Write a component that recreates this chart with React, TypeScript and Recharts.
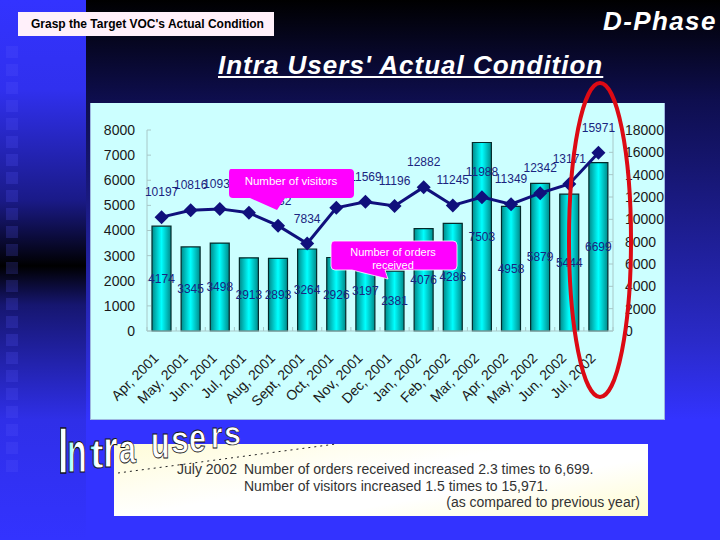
import React from "react";
import { ComposedChart, Bar, Line, XAxis, YAxis, LabelList } from "recharts";

const categories = ["Apr, 2001","May, 2001","Jun, 2001","Jul, 2001","Aug, 2001","Sept, 2001","Oct, 2001","Nov, 2001","Dec, 2001","Jan, 2002","Feb, 2002","Mar, 2002","Apr, 2002","May, 2002","Jun, 2002","Jul, 2002"];
const orders = [4174,3345,3498,2913,2893,3264,2926,3197,2381,4076,4286,7503,4958,5879,5444,6699];
const visitors = [10197,10816,10936,10583,9432,7834,11032,11569,11196,12882,11245,11988,11349,12342,13171,15971];
const leftTicks = [0,1000,2000,3000,4000,5000,6000,7000,8000];
const rightTicks = [0,2000,4000,6000,8000,10000,12000,14000,16000,18000];
const data = categories.map((name, i) => ({ name, orders: orders[i], visitors: visitors[i] }));

const FONT = "'Liberation Sans', Arial, sans-serif";
const NAVY = "#10107c";
const LABEL = "#1a2580";
const STEP = (613 - 147) / 16;

// WordArt letters: char, x, baseline, scaleX, scaleY
const wordArt: [string, number, number, number, number][] = [
  ["I", 58, 473, 1.1, 1.88],
  ["n", 67, 472, 0.95, 1.7],
  ["t", 90, 468, 1.2, 1.2],
  ["r", 103, 467, 1.1, 1.5],
  ["a", 119, 463, 0.9, 1.2],
  ["u", 151, 458, 0.9, 1.3],
  ["s", 171, 453, 0.95, 1.15],
  ["e", 189, 452, 0.9, 1.2],
  ["r", 211, 448, 0.85, 1.1],
  ["s", 224, 445, 0.9, 1.0],
];
const squares = Array.from({ length: 24 }, (_, i) => i);

function Diamond(props: any) {
  const { cx, cy, index } = props;
  const r = 7;
  return <polygon key={index} points={`${cx},${cy - r} ${cx + r},${cy} ${cx},${cy + r} ${cx - r},${cy}`} fill={NAVY} />;
}

function XTick(props: any) {
  const { x, y, payload, index } = props;
  const ax = x - 2;
  const ay = y + 20;
  return (
    <g>
      <line x1={x - STEP / 2} x2={x - STEP / 2} y1={331} y2={327} stroke="#a8c8c8" />
      {index === 15 && <line x1={x + STEP / 2} x2={x + STEP / 2} y1={331} y2={327} stroke="#a8c8c8" />}
      <text x={ax} y={ay} textAnchor="end" transform={`rotate(-45 ${ax} ${ay})`} fontFamily={FONT} fontSize={14} fill="#1a1a1a">
        {payload.value}
      </text>
    </g>
  );
}

export default function App() {
  return (
    <div style={{ position: "absolute", left: 0, top: 0, width: 720, height: 540, overflow: "hidden", fontFamily: FONT,
      background: "linear-gradient(180deg,#000000 0px,#0e0e4e 100px,#2a2ac8 340px,#3333ff 420px,#3333ff 540px)" }}>
      <div style={{ position: "absolute", left: 0, top: 0, width: 86, height: 540,
        background: "linear-gradient(180deg,#3333ff 0px,#3030ee 90px,#1a1a88 200px,#000000 266px,#161670 305px,#2f2fe8 420px,#3333ff 540px)" }} />
      {squares.map((i) => (
        <div key={i} style={{ position: "absolute", left: 6, top: 46 + i * 18, width: 12, height: 12, background: "rgba(90,90,255,0.2)" }} />
      ))}
      <div style={{ position: "absolute", left: 90, top: 103, width: 575, height: 317, background: "#ccffff", boxSizing: "border-box", borderRight: "1px solid #9fb8e0", borderBottom: "1px solid #9fb8e0", borderLeft: "1px solid #9fb8e0" }} />
      <div style={{ position: "absolute", left: 18, top: 12, width: 256, height: 24, background: "#fff0fa", color: "#000", fontSize: 12, fontWeight: "bold", lineHeight: "25px", paddingLeft: 13, boxSizing: "border-box", whiteSpace: "nowrap" }}>
        Grasp the Target VOC's Actual Condition
      </div>
      <div style={{ position: "absolute", left: 603, top: 5, color: "#fff", fontSize: 26, fontWeight: "bold", fontStyle: "italic", letterSpacing: 1.4, lineHeight: "32px", whiteSpace: "nowrap" }}>D-Phase</div>
      <div style={{ position: "absolute", left: 218, top: 49, color: "#fff", fontSize: 26, fontWeight: "bold", fontStyle: "italic", letterSpacing: 1, textDecoration: "underline", lineHeight: "32px", whiteSpace: "nowrap" }}>Intra Users' Actual Condition</div>

      <div style={{ position: "absolute", left: 114, top: 444, width: 534, height: 72, background: "linear-gradient(170deg,#fffcd8 0%,#ffffff 45%,#ffffff 65%,#fffcd0 100%)", color: "#333", fontSize: 14 }}>
        <div style={{ position: "absolute", left: 63, top: 17, whiteSpace: "nowrap" }}>July 2002</div>
        <div style={{ position: "absolute", left: 130, top: 17, whiteSpace: "nowrap" }}>Number of orders received increased 2.3 times to 6,699.</div>
        <div style={{ position: "absolute", left: 130, top: 34, whiteSpace: "nowrap" }}>Number of visitors increased 1.5 times to 15,971.</div>
        <div style={{ position: "absolute", right: 8, top: 50, whiteSpace: "nowrap" }}>(as compared to previous year)</div>
      </div>

      <div style={{ position: "absolute", left: 0, top: 0 }}>
        <ComposedChart width={720} height={540} data={data} margin={{ left: 87, right: 47, top: 130, bottom: 119 }}>
          <defs>
            <linearGradient id="barFill" x1="0" y1="0" x2="1" y2="0">
              <stop offset="0%" stopColor="#008a8a" />
              <stop offset="50%" stopColor="#00ffff" />
              <stop offset="100%" stopColor="#008a8a" />
            </linearGradient>
          </defs>
          <XAxis dataKey="name" interval={0} height={90} tick={<XTick />} tickLine={false} axisLine={{ stroke: "#a8c8c8" }} />
          <YAxis yAxisId="left" orientation="left" width={60} domain={[0, 8000]} ticks={leftTicks} interval={0} tickSize={-4} tickMargin={16}
            tick={{ fontFamily: FONT, fontSize: 14, fill: "#1a1a1a" }} stroke="#a8c8c8" />
          <YAxis yAxisId="right" orientation="right" width={60} domain={[0, 18000]} ticks={rightTicks} interval={0} tickSize={-4} tickMargin={16}
            tick={{ fontFamily: FONT, fontSize: 14, fill: "#1a1a1a" }} stroke="#a8c8c8" />
          <Bar yAxisId="left" dataKey="orders" barSize={19} fill="url(#barFill)" stroke="#042a2a" strokeWidth={1.2} isAnimationActive={false}>
            <LabelList dataKey="orders" position="center" fill={LABEL} fontFamily={FONT} fontSize={12} stroke="none" />
          </Bar>
          <Line yAxisId="right" dataKey="visitors" stroke={NAVY} strokeWidth={3} type="linear" dot={(p: any) => <Diamond key={p.index} {...p} />} activeDot={false} isAnimationActive={false}>
            <LabelList dataKey="visitors" position="top" offset={21} fill={LABEL} fontFamily={FONT} fontSize={12} />
          </Line>
        </ComposedChart>
      </div>

      <svg width={720} height={540} style={{ position: "absolute", left: 0, top: 0 }}>
        <defs>
          <linearGradient id="wa" x1="0" y1="0" x2="1" y2="0">
            <stop offset="0%" stopColor="#66ffff" />
            <stop offset="45%" stopColor="#ffffff" />
            <stop offset="100%" stopColor="#ffffff" />
          </linearGradient>
        </defs>
        <path d="M231 169 H350 Q354 169 354 173 V194 Q354 198 350 198 H285 L277 210 L250 198 H233 Q229 198 229 194 V173 Q229 169 231 169 Z" fill="#ff00ff" />
        <text x={291} y={185} textAnchor="middle" fontFamily={FONT} fontSize={11.5} fill="#fff">Number of visitors</text>
        <path d="M334 241 H453 Q457 241 457 245 V266 Q457 270 453 270 H385 L388 279 L352 270 H335 Q331 270 331 266 V245 Q331 241 334 241 Z" fill="#ff00ff" stroke="#fff" strokeWidth={0.8} />
        <text x={393} y={256} textAnchor="middle" fontFamily={FONT} fontSize={11} fill="#fff">Number of orders</text>
        <text x={393} y={269} textAnchor="middle" fontFamily={FONT} fontSize={11} fill="#fff">received</text>

        <ellipse cx={600} cy={240} rx={31} ry={157} fill="none" stroke="#dc0a14" strokeWidth={4} />

        <line x1={118} y1={473} x2={336} y2={444} stroke="#222" strokeDasharray="2 4" />
        {wordArt.map(([c, x, y, sx, sy], i) => (
          <text key={i} transform={`translate(${x} ${y}) scale(${sx} ${sy})`} fontFamily={FONT} fontSize={34} fontWeight="bold"
            fill={i < 3 ? "url(#wa)" : "#fff"} stroke="#111" strokeWidth={0.7}>{c}</text>
        ))}
      </svg>
    </div>
  );
}
